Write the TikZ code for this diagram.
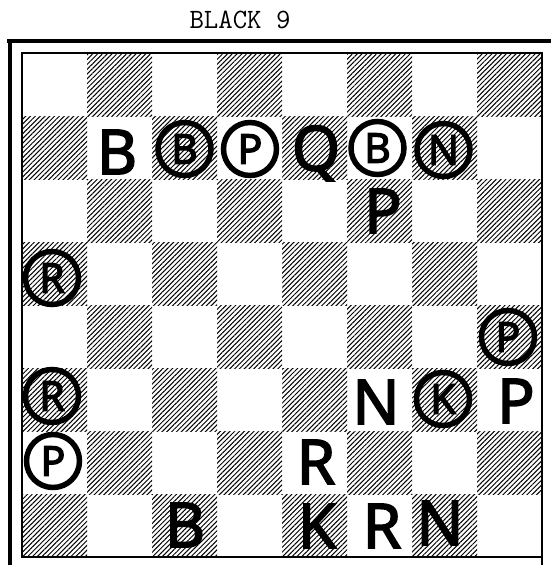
\documentclass[tikz,border=0pt]{standalone}
\usepackage{fontspec}
\usetikzlibrary{patterns.meta}
\newfontfamily\piecefont[FakeBold=2.5]{Noto Sans}
\newfontfamily\smallpiecefont[FakeBold=3]{Noto Sans}
\tikzset{
  darksq/.style={pattern={Lines[angle=45,distance=3.4pt,line width=1pt]},pattern color=black},
  plainpc/.style={inner sep=0pt,text depth=0pt,font=\piecefont\fontsize{62}{62}\selectfont},
  circpc/.style={circle,draw=black,line width=5.5pt,minimum size=53pt,inner sep=0pt,text depth=0pt,font=\smallpiecefont\fontsize{41}{41}\selectfont},
  frameline/.style={line width=#1,black},
}
\begin{document}
\begin{tikzpicture}[x=1pt,y=-1pt]
\useasboundingbox (0,0) rectangle (551,565);
% title
\node[font=\ttfamily\fontsize{28}{28}\selectfont,inner sep=0pt,anchor=base] (title) at (240,28) {BLACK 9};
% outer frame
\draw[frameline=3.5pt] (7,41) -- (551,41);
\draw[frameline=4pt] (9.5,39.5) -- (9.5,565);
% dark squares
\foreach \r in {1,...,8}{
  \foreach \c in {1,...,8}{
    \pgfmathtruncatemacro{\sqparity}{mod(\r+\c,2)}
    \ifnum\sqparity=1
      \fill[darksq] ({22+65*(\c-1)},{53+63*(\r-1)}) rectangle ++(65,63);
    \fi
  }
}
% board border
\draw[line width=1.2pt] (22,53) rectangle (542,557);
\draw[line width=1.2pt] (542,557) -- (542,565);
% plain pieces
\node[plainpc] (wB1) at (117,152) {B};
\node[plainpc] (wQ)  at (316,148) {Q};
\node[plainpc] (wP1) at (383,211) {P};
\node[plainpc] (wN1) at (376,402) {N};
\node[plainpc] (wP2) at (516,401) {P};
\node[plainpc] (wR1) at (316,462) {R};
\node[plainpc] (wB2) at (185,525) {B};
\node[plainpc] (wK)  at (317,526) {K};
\node[plainpc] (wR2) at (382,526) {R};
\node[plainpc] (wN2) at (440,523) {N};
% circled pieces
\node[circpc] (bB1) at (184.5,149) {B};
\node[circpc] (bP1) at (250,149) {P};
\node[circpc] (bB2) at (377.5,148) {B};
\node[circpc] (bN)  at (443.5,150) {N};
\node[circpc] (bR1) at (52,278) {R};
\node[circpc] (bP2) at (508,337) {P};
\node[circpc] (bR2) at (52,396) {R};
\node[circpc] (bK)  at (443,399) {K};
\node[circpc] (bP3) at (53,461) {P};
\end{tikzpicture}
\end{document}
